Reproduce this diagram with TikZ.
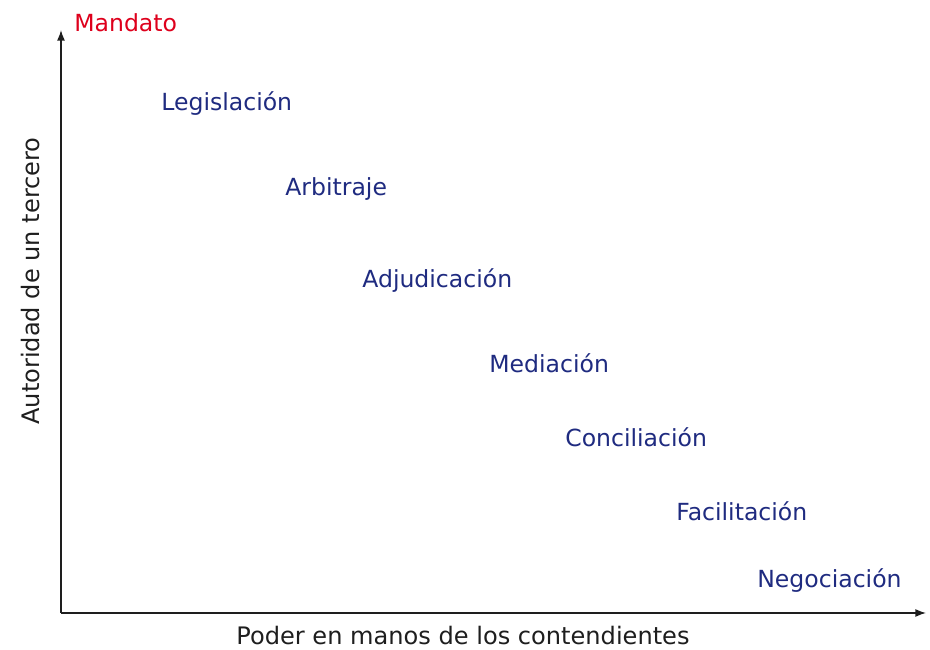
\documentclass[tikz,border=0pt]{standalone}
\usepackage{fontspec}
\setmainfont{DejaVu Sans}
\usepackage{xcolor}
\usetikzlibrary{arrows.meta}
\definecolor{metodo}{RGB}{31,43,128}
\definecolor{mandato}{RGB}{222,0,28}
\definecolor{eje}{RGB}{30,30,30}
\tikzset{axis/.style = {draw=eje, line width=0.8pt, -{Latex[length=6pt,width=4.5pt]}}}
\tikzset{metodo/.style = {anchor=west, inner sep=0pt, text=metodo}}
\tikzset{ejelabel/.style = {inner sep=0pt, text=eje, font=\fontsize{13.7}{16}\selectfont}}

\begin{document}
\begin{tikzpicture}[font=\fontsize{13.4}{16}\selectfont]
\useasboundingbox (0,0) rectangle (18.6,13);
\coordinate (o) at (1.22,0.74);
\coordinate (ytop) at (1.22,12.4);
\coordinate (xend) at (18.52,0.74);
\draw[axis] (o) -- (ytop);
\draw[axis] (o) -- (xend);
%
\node[anchor=west, inner sep=0pt, text=mandato] (mandato) at (1.48,12.54) {Mandato};
%
\node[metodo] (legislacion) at (3.22,10.93) {Legislación};
\node[metodo] (arbitraje) at (5.70,9.21) {Arbitraje};
\node[metodo] (adjudicacion) at (7.24,7.39) {Adjudicación};
\node[metodo] (mediacion) at (9.78,5.74) {Mediación};
\node[metodo] (conciliacion) at (11.30,4.26) {Conciliación};
\node[metodo] (facilitacion) at (13.52,2.78) {Facilitación};
\node[metodo] (negociacion) at (15.14,1.39) {Negociación};
%
\node[ejelabel] (xlabel) at (9.26,0.29) {Poder en manos de los contendientes};
\node[ejelabel, rotate=90] (ylabel) at (0.62,7.38) {Autoridad de un tercero};
\end{tikzpicture}
\end{document}
